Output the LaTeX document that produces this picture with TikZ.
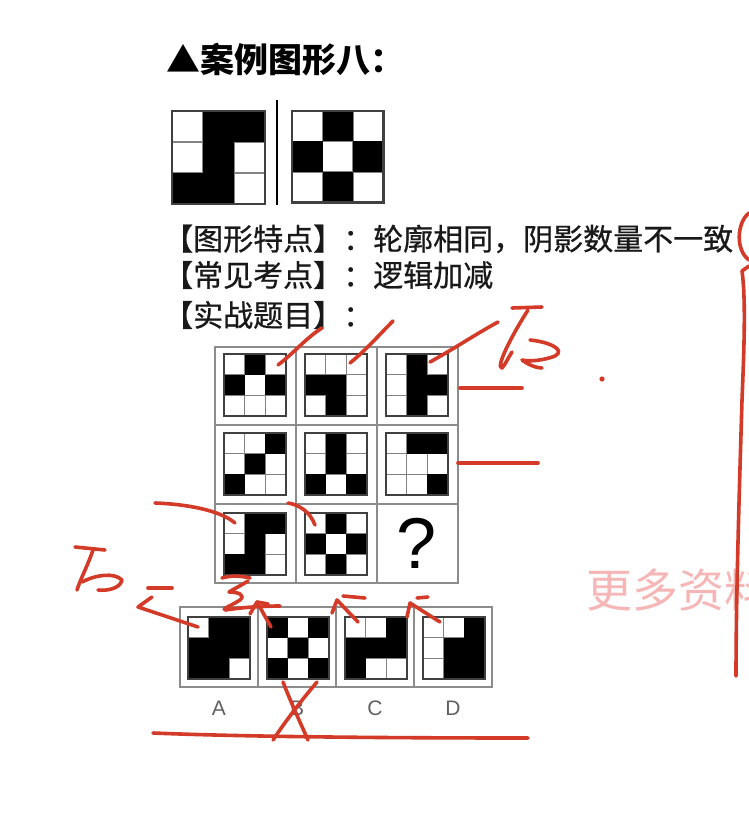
\documentclass[tikz,border=0pt]{standalone}
\usepackage{fontspec}
\newfontfamily\cjk{Noto Sans CJK SC}
\newfontfamily\cjkm[FakeBold=0.7]{Noto Sans CJK SC}
\newfontfamily\latsans{Liberation Sans}
\definecolor{inkred}{RGB}{212,58,40}
\definecolor{frameg}{RGB}{140,140,140}
\definecolor{lineg}{RGB}{130,130,130}
\definecolor{wmpink}{RGB}{246,182,182}
\tikzset{
  ink/.style={draw=inkred, line width=3.6pt, line cap=round, line join=round},
  gridln/.style={draw=lineg, line width=1.5pt},
  patbd/.style={draw=black!75, line width=2.2pt},
  framebd/.style={draw=frameg, line width=2.6pt},
  txt/.style={inner sep=0pt, anchor=west, font=\cjkm\fontsize{30}{36}\selectfont, text=black!90},
  lbl/.style={inner sep=0pt, font=\latsans\fontsize{21}{24}\selectfont, text=black!62},
}
\newcommand\drawpat[4]{%
  \foreach \k in {1,2} {
    \draw[gridln] ({#1+\k*#3},#2) -- ++(0,{3*#3});
    \draw[gridln] (#1,{#2+\k*#3}) -- ++({3*#3},0);
  }
  \foreach \b [count=\i from 0] in {#4} {
    \pgfmathtruncatemacro\prow{floor(\i/3)}
    \pgfmathtruncatemacro\pcol{mod(\i,3)}
    \ifnum\b=1 \fill[black] ({#1+\pcol*#3},{#2+\prow*#3}) rectangle ++(#3,#3);\fi
  }
  \draw[patbd] (#1,#2) rectangle ++({3*#3},{3*#3});
}
\begin{document}
\begin{tikzpicture}[x=1pt,y=-1pt]
\useasboundingbox (0,0) rectangle (748,829);
\fill[white] (0,0) rectangle (748,829);

% watermark (cut by the right edge, as in the reference)
\node[inner sep=0pt, anchor=west, font=\cjk\fontsize{46}{50}\selectfont, text=wmpink] (wm) at (586,590) {更多资料};

% title
\node[inner sep=0pt, anchor=west, font=\cjk\bfseries\fontsize{34}{40}\selectfont] (title) at (166,60) {▲案例图形八：};

% example figures
\drawpat{172}{111}{31}{0,1,1,0,1,0,1,1,0}
\draw[line width=2pt] (277,100) -- (277,205);
\drawpat{292}{111}{30.5}{0,1,0,1,0,1,0,1,0}

% text lines
\node[txt] (t1) at (163,239) {【图形特点】：轮廓相同，阴影数量不一致};
\node[txt] (t2) at (163,275) {【常见考点】：逻辑加减};
\node[txt] (t3) at (163,315) {【实战题目】：};

% puzzle grid
\draw[framebd] (215,347) rectangle (458,583);
\draw[framebd] (296,347) -- (296,583) (377,347) -- (377,583);
\draw[framebd] (215,425) -- (458,425) (215,504) -- (458,504);
\drawpat{224}{354}{20.7}{0,1,0,1,0,1,0,0,0}
\drawpat{305}{354}{20.7}{0,0,0,1,1,0,0,1,0}
\drawpat{386}{354}{20.7}{0,1,0,0,1,1,0,1,0}
\drawpat{224}{433}{20.7}{0,0,1,0,1,0,1,0,0}
\drawpat{305}{433}{20.7}{0,1,0,0,1,0,1,0,1}
\drawpat{386}{433}{20.7}{0,1,1,0,0,0,0,0,1}
\drawpat{224}{513}{20.7}{0,1,1,0,1,0,1,1,0}
\drawpat{305}{513}{20.7}{0,1,0,1,0,1,0,1,0}
\node[inner sep=0pt, font=\latsans\fontsize{72}{80}\selectfont] (q) at (417,543) {?};

% options
\draw[framebd] (180,607) rectangle (492,687);
\draw[framebd] (258,607) -- (258,687) (336,607) -- (336,687) (414,607) -- (414,687);
\drawpat{188}{617}{20.7}{0,1,1,1,1,1,1,1,0}
\drawpat{267}{617}{20.7}{1,0,1,0,1,0,1,0,1}
\drawpat{345}{617}{20.7}{0,0,1,1,1,1,1,0,0}
\drawpat{423}{617}{20.7}{0,0,1,0,1,1,0,1,1}
\node[lbl] (la) at (219,708) {A};
\node[lbl] (lb) at (297,708) {B};
\node[lbl] (lc) at (375,708) {C};
\node[lbl] (ld) at (453,708) {D};

% ---- red handwriting ----
\draw[ink] (278,365) .. controls (295,352) and (306,338) .. (322,328);
\draw[ink] (350,363) .. controls (366,350) and (380,334) .. (393,321);
\draw[ink] (430,362) .. controls (452,350) and (476,334) .. (498,322);
% right "To"
\draw[ink] (512,308) -- (542,307);
\draw[ink] (528,310) .. controls (512,335) and (495,368) .. (502,368) .. controls (505,365) and (508,358) .. (512,352);
\draw[ink] (530,340) .. controls (550,342) and (566,350) .. (555,356) .. controls (545,360) and (530,362) .. (522,360) .. controls (530,366) and (538,368) .. (542,368);
\fill[inkred] (602,379) circle (2.6);
\draw[ink] (460,388) -- (522,388);
\draw[ink] (458,463) -- (538,463);
% right side bracket and long line
\draw[ink] (749,213) .. controls (737,222) and (735,250) .. (749,260);
\draw[ink] (749,266) -- (742,271) .. controls (746,300) and (744,350) .. (742,400) .. controls (739,500) and (736,600) .. (736,676);
% left marks
\draw[ink] (155,503) .. controls (185,504) and (220,510) .. (235,523);
\draw[ink] (288,503) .. controls (300,505) and (310,512) .. (315,525);
% left "To"
\draw[ink] (75,547) -- (105,550);
\draw[ink] (93,550) .. controls (88,565) and (80,580) .. (77,590);
\draw[ink] (82,582) .. controls (95,575) and (114,572) .. (122,580) .. controls (120,589) and (106,591) .. (98,590);
\draw[ink] (148,588) -- (172,588);
\draw[ink] (152,597) -- (138,607) -- (198,627);
% scribble near A
\draw[ink] (222,578) .. controls (232,575) and (242,576) .. (250,578);
\draw[ink] (248,581) .. controls (240,586) and (232,590) .. (229,592) .. controls (238,592) and (246,595) .. (240,600) .. controls (232,605) and (227,607) .. (224,609);
\draw[ink] (225,610) .. controls (245,607) and (265,606) .. (280,606);
\draw[ink] (250,614) -- (257,602) -- (271,627);
\draw[ink] (257,602) -- (268,604);
% arrows near C and D
\draw[ink] (332,613) -- (337,600) -- (358,622);
\draw[ink] (343,596) -- (365,598);
\draw[ink] (407,617) -- (410,603) -- (440,622);
\draw[ink] (417,598) -- (428,597);
% X over B and bottom line
\draw[ink] (283,682) .. controls (292,705) and (300,722) .. (308,740);
\draw[ink] (317,682) .. controls (300,702) and (285,722) .. (273,740);
\draw[ink] (153,733) .. controls (250,737) and (400,738) .. (528,738);
\end{tikzpicture}
\end{document}
